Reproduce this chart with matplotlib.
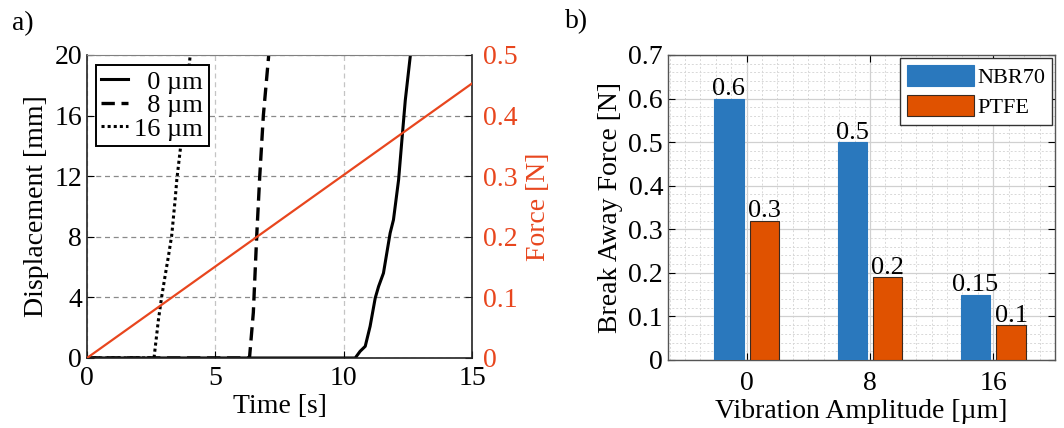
import numpy as np
import matplotlib
matplotlib.use("Agg")
import matplotlib.pyplot as plt
from matplotlib.ticker import MultipleLocator, FuncFormatter

plt.rcParams['font.family'] = ['Liberation Serif', 'DejaVu Serif']
plt.rcParams['font.size'] = 20

# ---- panel a) displacement curves ----
t_0um = [0, 10.45, 10.64, 10.84, 11.03, 11.23, 11.36, 11.55, 11.81, 11.94, 12.14, 12.27, 12.40, 12.60]
d_0um = [0, 0, 0.44, 0.77, 2.09, 3.96, 4.72, 5.6, 8.24, 9.12, 11.76, 14.4, 17.0, 20.0]
t_8um = [0, 6.33, 6.48, 6.61, 6.73, 6.87, 7.08]
d_8um = [0, 0, 3.0, 8.0, 12.0, 16.0, 20.0]
t_16um = [0, 2.61, 2.78, 2.91, 3.04, 3.17, 3.30, 3.43, 3.50, 3.63, 3.85, 4.02]
d_16um = [0, 0, 2.5, 4.06, 5.4, 6.7, 8.1, 10.4, 11.8, 13.7, 17.0, 20.0]
t_force = [0, 15]
f_force = [0, 0.453]

# ---- panel b) break away force ----
amplitudes = [0, 8, 16]
nbr70 = [0.60, 0.50, 0.15]
ptfe = [0.32, 0.19, 0.08]
nbr70_lbl = ["0.6", "0.5", "0.15"]
ptfe_lbl = ["0.3", "0.2", "0.1"]

RED = "#e8461e"
BLUE = "#2a78bd"
ORANGE = "#e05200"

fig = plt.figure(figsize=(10.64, 4.28), dpi=100)

# ---------------- a) ----------------
ax = fig.add_axes([0.0818, 0.1636, 0.3618, 0.7079])
ax.plot(t_0um, d_0um, color="black", lw=2.2, ls="-", label="\u20070 µm")
ax.plot(t_8um, d_8um, color="black", lw=2.4, ls=(0, (4, 2)), label="\u20078 µm")
ax.plot(t_16um, d_16um, color="black", lw=2.2, ls=(0, (1, 1)), label="16 µm")
ax.set_xlim(0, 15)
ax.set_ylim(0, 20)
ax.set_xticks([0, 5, 10, 15])
ax.set_yticks([0, 4, 8, 12, 16, 20])
ax.xaxis.grid(True, color="#c4c4c4", ls=(0, (4, 3)), lw=0.9)
ax.yaxis.grid(True, color="#8a8a8a", ls=(0, (4, 3)), lw=0.9)
ax.set_axisbelow(True)
ax.tick_params(direction="in", length=5, width=0.8, top=False)
ax.tick_params(axis="x", pad=6)
ax.set_xlabel("Time [s]", labelpad=2)
ax.set_ylabel("Displacement [mm]", labelpad=4)
ax.spines["top"].set_color("#808080")
for s in ("left", "bottom", "right"):
    ax.spines[s].set_color("#222222")
    ax.spines[s].set_linewidth(1.2)
leg = ax.legend(loc="upper left", bbox_to_anchor=(0.01, 0.985), frameon=True,
                fancybox=False, edgecolor="black", handlelength=1.0,
                handletextpad=0.25, borderpad=0.2, labelspacing=0.0,
                borderaxespad=0.2, fontsize=19)
leg.get_frame().set_linewidth(1.4)
leg.get_frame().set_alpha(1)

ax2 = ax.twinx()
ax2.plot(t_force, f_force, color=RED, lw=1.6)
ax2.set_ylim(0, 0.5)
ax2.set_yticks([0, 0.1, 0.2, 0.3, 0.4, 0.5])
ax2.yaxis.set_major_formatter(FuncFormatter(lambda v, p: "0" if v == 0 else f"{v:.1f}"))
ax2.tick_params(axis="y", direction="in", length=5, colors="#222222", labelcolor=RED, pad=8)
ax2.set_ylabel("Force [N]", color=RED, labelpad=6)
for s in ax2.spines.values():
    s.set_visible(False)

# ---------------- b) ----------------
bx = fig.add_axes([0.6278, 0.1589, 0.3637, 0.7126])
w = 1.9
off = 1.15
x = np.array(amplitudes, dtype=float)
bars1 = bx.bar(x - off, nbr70, width=w, color=BLUE, edgecolor=BLUE, lw=0.8, label="NBR70", zorder=3)
bars2 = bx.bar(x + off, ptfe, width=w, color=ORANGE, edgecolor="#3a2a20", lw=0.8, label="PTFE", zorder=3)
for b, lbl in zip(bars1, nbr70_lbl):
    bx.text(b.get_x() + b.get_width() / 2, b.get_height() - 0.004, lbl,
            ha="center", va="bottom", fontsize=19, zorder=4)
for b, lbl in zip(bars2, ptfe_lbl):
    bx.text(b.get_x() + b.get_width() / 2, b.get_height() - 0.004, lbl,
            ha="center", va="bottom", fontsize=19, zorder=4)
bx.set_xlim(-5.1, 20)
bx.set_ylim(0, 0.7)
bx.set_xticks(amplitudes)
bx.set_yticks(np.arange(0, 0.71, 0.1))
bx.yaxis.set_major_formatter(FuncFormatter(lambda v, p: "0" if abs(v) < 1e-9 else f"{v:.1f}"))
bx.xaxis.set_minor_locator(MultipleLocator(1))
bx.yaxis.set_minor_locator(MultipleLocator(0.02))
bx.grid(True, which="major", color="#d0d0d0", ls="-", lw=0.9, zorder=0)
bx.grid(True, which="minor", color="#d8d8d8", ls=(0, (2, 2)), lw=0.7, zorder=0)
bx.set_axisbelow(True)
bx.tick_params(which="both", direction="in", top=True, right=True, width=0.8)
bx.tick_params(which="major", length=5)
bx.tick_params(which="minor", length=0)
bx.tick_params(axis="x", pad=8)
for s in bx.spines.values():
    s.set_color("#555555")
    s.set_linewidth(1.0)
bx.set_xlabel("Vibration Amplitude [µm]", labelpad=2)
bx.set_ylabel("Break Away Force [N]", labelpad=4)
leg2 = bx.legend(loc="upper right", frameon=True, fancybox=False, edgecolor="#333333",
                 handlelength=3.0, handleheight=1.1, handletextpad=0.15, borderpad=0.3,
                 labelspacing=0.3, borderaxespad=0.15, fontsize=16)
leg2.get_frame().set_linewidth(1.0)
leg2.get_frame().set_alpha(1)

fig.text(0.011, 0.945, "a)", fontsize=20, va="center", ha="left")
fig.text(0.531, 0.950, "b)", fontsize=20, va="center", ha="left")

fig.savefig("out.png", dpi=100)
